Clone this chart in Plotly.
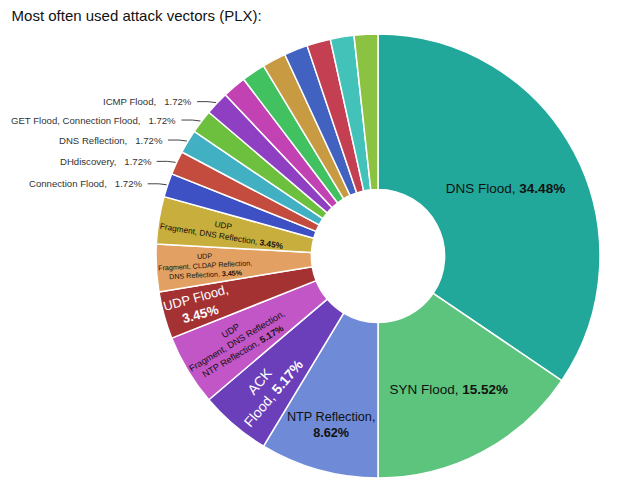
import math
import plotly.graph_objects as go

labels = [
    "DNS Flood", "SYN Flood", "NTP Reflection", "ACK Flood",
    "UDP Fragment, DNS Reflection, NTP Reflection", "UDP Flood",
    "UDP Fragment, CLDAP Reflection, DNS Reflection",
    "UDP Fragment, DNS Reflection", "Connection Flood", "DHdiscovery",
    "DNS Reflection", "GET Flood, Connection Flood", "ICMP Flood",
    "Other 1", "Other 2", "Other 3", "Other 4", "Other 5", "Other 6", "Other 7",
]
values = [20, 9, 5, 3, 3, 2, 2, 2, 1, 1, 1, 1, 1, 1, 1, 1, 1, 1, 1, 1]
display = [
    "DNS Flood", "SYN Flood", "NTP Reflection,<br>", "ACK<br>Flood",
    "UDP<br>Fragment, DNS Reflection,<br>NTP Reflection", "UDP Flood,<br>",
    "UDP<br>Fragment, CLDAP Reflection,<br>DNS Reflection",
    "UDP<br>Fragment, DNS Reflection", "Connection Flood", "DHdiscovery",
    "DNS Reflection", "GET Flood, Connection Flood", "ICMP Flood",
    "", "", "", "", "", "", "",
]
colors = [
    "#22a89a", "#5cc47c", "#6f8bd8", "#6a3fb9", "#c256c6", "#a53232",
    "#e2a162", "#c8ae3c", "#3d50c4", "#c44c3e", "#41b0c2", "#6dc03d",
    "#8f40c2", "#c242b4", "#41c15f", "#c89a42", "#4262c2", "#c43f51",
    "#43c2b9", "#8cc241",
]
# label style per slice: 'h' horizontal inside, 'r' radial inside, 'o' outside (callout), 'n' none
styles = ["h", "h", "h", "r", "r", "r", "r", "r"] + ["o"] * 5 + ["n"] * 7
font_colors = ["#111", "#111", "#111", "white", "#111", "white", "#111", "#111"] + ["#333"] * 12
font_sizes = [13.5, 13.5, 13.5, 14, 13, 13, 11, 11] + [9.6] * 12

W, H = 642, 490
CX, CY, R = 378, 256, 222  # pie centre / radius in pixels (defines the domain)
domain = dict(x=[(CX - R) / W, (CX + R) / W], y=[(H - CY - R) / H, (H - CY + R) / H])


def template(i, active):
    if styles[i] not in active:
        return ""
    d = display[i]
    sep = "" if d.endswith("<br>") else ", "
    return "%{customdata}" + sep + "<b>%{percent:.2%}</b>"


def position(i, active):
    return "inside" if styles[i] in active else "none"


common = dict(labels=labels, values=values, customdata=display, sort=False,
              direction="clockwise", rotation=0, hole=0.30,
              showlegend=False, domain=domain, hoverinfo="label+percent")

n = len(values)
base = go.Pie(
    **common,
    marker=dict(colors=colors, line=dict(color="white", width=1.5)),
    textposition=[position(i, ("h",)) for i in range(n)],
    texttemplate=[template(i, ("h",)) for i in range(n)],
    insidetextorientation="horizontal",
    insidetextfont=dict(color=font_colors, size=font_sizes),
)
overlay = go.Pie(
    **common,
    marker=dict(colors=["rgba(0,0,0,0)"] * n, line=dict(color="rgba(0,0,0,0)", width=0)),
    textposition=[position(i, ("r",)) for i in range(n)],
    texttemplate=[template(i, ("r",)) for i in range(n)],
    insidetextorientation="radial",
    insidetextfont=dict(color=font_colors, size=font_sizes),
)

fig = go.Figure([base, overlay])

# callout labels with leader lines for the small slices, derived from the values
total = sum(values)
cum = 0
for i, v in enumerate(values):
    mid = (cum + v / 2) / total * 2 * math.pi
    cum += v
    if styles[i] != "o":
        continue
    x0 = CX + (R + 1) * math.sin(mid)
    y0 = CY - (R + 1) * math.cos(mid)
    x1, y1 = x0 - 8, y0 - 1
    x2 = x1 - 11
    fig.add_shape(type="path", xref="paper", yref="paper",
                  path=f"M {x0 / W} {1 - y0 / H} L {x1 / W} {1 - y1 / H} L {x2 / W} {1 - y1 / H}",
                  line=dict(color="#444", width=1))
    fig.add_annotation(xref="paper", yref="paper", x=(x2 - 3) / W, y=1 - y1 / H,
                       xanchor="right", yanchor="middle", showarrow=False,
                       text=f"{labels[i]},   {v / total * 100:.2f}%",
                       font=dict(size=9.6, color="#333"))

fig.update_layout(
    width=W, height=H, margin=dict(l=0, r=0, t=0, b=0),
    paper_bgcolor="white", plot_bgcolor="white",
    font=dict(family="Liberation Sans, Arial, sans-serif"),
    title=dict(text="Most often used attack vectors (PLX):", x=0.018, y=0.978,
               xanchor="left", yanchor="top", font=dict(size=15, color="#111")),
)
fig.write_html("out.html")
